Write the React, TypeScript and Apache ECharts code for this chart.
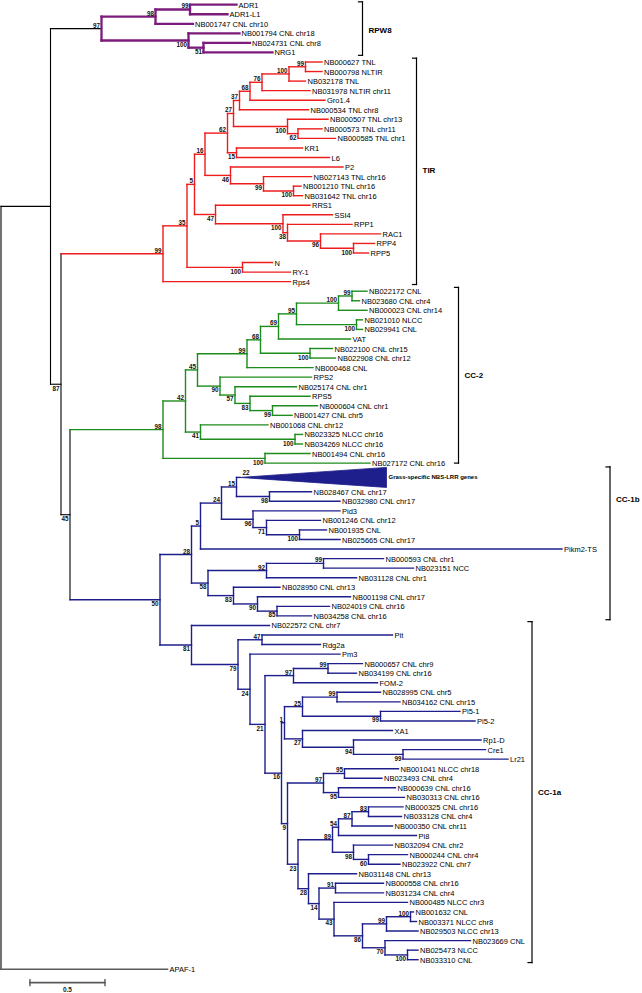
import React, { useEffect, useRef } from "react";
import * as echarts from "echarts";

// ---------- colours ----------
const PURPLE = "#7b1b7b";
const RED = "#ee1c1c";
const GREEN = "#1c8c1c";
const BLUE = "#1e1e8c";
const BLACK = "#000000";
const GRAY = "#5a5a5a";

// ---------- tree data (Newick-like: label:depth from root, internal label = bootstrap) ----------
const rpw8Newick =
  "(((ADR1:1.57,ADR1-L1:1.51)99:1.26,NB001747 CNL chr10:1.28)98:1.03,(NB001794 CNL chr18:1.59,(NB024731 CNL chr8:1.66,NRG1:1.81)51:1.35)100:1.25)97:0.67";

const tirNewick =
  "(((((((((((NB000627 TNL:2.14,NB000798 NLTIR:2.14)99:2.03,NB032178 TNL:2.03)100:1.92,NB031978 NLTIR chr11:2.06)76:1.74,Gro1.4:2.16)68:1.66,NB000534 TNL chr8:2.05)37:1.59,(NB000507 TNL chr13:2.18,(NB000573 TNL chr11:2.14,NB000585 TNL chr1:2.23)62:1.98)100:1.91)27:1.55,(KR1:2.01,L6:2.19)15:1.57)62:1.51,(P2:2.28,(NB027143 TNL chr16:2.07,(NB001210 TNL chr16:2.0,NB031642 TNL chr16:2.01)100:1.95)99:1.75)46:1.53)16:1.36,(RRS1:2.06,(SSI4:2.21,(RPP1:2.34,(RAC1:2.53,(RPP4:2.49,RPP5:2.45)100:2.35)96:2.13)38:1.91)100:1.88)47:1.43)5:1.29,(N:1.81,RY-1:1.93)100:1.61)35:1.24,Rps4:1.93)99:1.08";

const cc2Newick =
  "(((((((((NB022172 CNL:2.44,NB023680 CNL chr4:2.39)99:2.34,NB000023 CNL chr14:2.44)100:2.25,(NB021010 NLCC:2.41,NB029941 CNL:2.41)100:2.37)95:1.97,VAT:2.33)69:1.85,(NB022100 CNL chr15:2.21,NB022908 CNL chr12:2.23)100:2.06)68:1.73,NB000468 CNL:2.08)99:1.64,(RPS2:2.07,(NB025174 CNL chr1:1.97,(RPS5:2.06,(NB000604 CNL chr1:2.11,NB001427 CNL chr5:1.94)99:1.81)83:1.66)57:1.56)90:1.46)45:1.31,(NB001068 CNL chr12:1.78,(NB023325 NLCC chr16:2.01,NB034269 NLCC chr16:2.01)100:1.96)41:1.33)42:1.23,(NB001494 CNL chr16:2.06,NB027172 CNL chr16:2.46)100:1.76)98:1.08";

// "*" marks the collapsed grass-specific clade
const cc1bNewick =
  "((((*:2.57,(NB028467 CNL chr17:2.07,NB032980 CNL chr17:2.26)98:1.79)15:1.57,(Pid3:2.26,(NB001246 CNL chr12:2.13,(NB001935 CNL:2.17,NB025665 CNL chr17:2.26)100:1.99)71:1.77)96:1.68)24:1.47,Pikm2-TS:3.74)5:1.33,(((NB000593 CNL chr1:2.55,NB023151 NCC:2.75)99:2.15,NB031128 CNL chr1:2.37)92:1.77,(NB028950 CNL chr13:1.86,(NB001198 CNL chr17:2.33,(NB024019 CNL chr16:2.19,NB034258 CNL chr16:2.07)85:1.84)90:1.71)83:1.55)58:1.38)28:1.27";

const cc1aNewick =
  "(NB022572 CNL chr7:1.79,((Pit:2.61,Rdg2a:2.13)47:1.74,(Pm3:2.26,(((NB000657 CNL chr9:2.41,NB034199 CNL chr16:2.37)99:2.18,FOM-2:2.51)97:1.95,((((NB028995 CNL chr5:2.53,NB034162 CNL chr15:2.66)99:2.24,(Pi5-1:3.06,Pi5-2:3.16)99:2.53)25:2.01,(XA1:2.61,(Rp1-D:3.2,(Cre1:3.23,Lr21:3.38)99:2.68)94:2.35)27:2.01)1:1.89,(((NB001041 NLCC chr18:2.65,NB023493 CNL chr4:2.54)95:2.29,(NB000639 CNL chr16:2.63,NB030313 CNL chr16:2.69)95:2.25)97:2.15,(((((NB000325 CNL chr16:2.68,NB033128 CNL chr4:2.67)83:2.45,NB000350 CNL chr11:2.61)87:2.34,Pi8:2.77)54:2.25,(NB032094 CNL chr2:2.61,(NB000244 CNL chr4:2.71,NB023922 CNL chr7:2.66)60:2.45)98:2.35)89:2.21,(NB031148 CNL chr13:2.37,((NB000558 CNL chr16:2.55,NB031234 CNL chr4:2.55)91:2.23,(NB000485 NLCC chr3:2.71,(((NB001632 CNL:2.75,NB003371 NLCC chr8:2.77)100:2.73,NB029503 NLCC chr13:2.78)99:2.57,(NB023669 CNL:3.13,(NB025473 NLCC:2.78,NB033310 CNL:2.78)100:2.71)70:2.56)86:2.41)43:2.22)14:2.12)28:2.05)23:1.98)9:1.91)16:1.87)21:1.76)24:1.66)79:1.58)81:1.27";

// backbone: A = (RPW8, B), B = (TIR, D), D = (CC-2, CC-1), CC-1 = (CC-1b, CC-1a)
const backboneNodes = ["A", "B", "D", "CC-1"];
const backboneDepth = [0.33, 0.4, 0.46, 1.06];
const backboneSupport = ["", "87", "45", "50"];

const outgroupName = "APAF-1";
const outgroupDepth = 1.11;

const collapsedName = "Grass-specific NBS-LRR genes";
const collapsedSupport = "22";
const collapsedApexDepth = 1.59;
const collapsedRows = 2;
const collapsedHalfRows = 1.05;

// clade brackets
const cladeNames = ["RPW8", "TIR", "CC-2", "CC-1b", "CC-1a"];
const cladeBracketX = [2.41, 2.77, 3.05, 4.06, 3.54];
const cladeRowFrom = [-0.3, 5.6, 29.6, 48.4, 64.6];
const cladeRowTo = [5.3, 29.3, 48.0, 64.4, 100.3];
const cladeLabelRow = [2.65, 17.4, 38.8, 51.8, 82.5];

// scale bar
const scaleBarLength = 0.5;
const scaleBarStart = 0.193;
const scaleBarRow = 102.4;
const scaleBarLabel = "0.5";

// axes ranges
const X_MAX = 641 / 150;
const Y_MAX = 103;

// ---------- helpers ----------
interface TNode {
  name: string;
  boot: string;
  x: number;
  y: number;
  children: TNode[];
  color: string;
  stem?: string;
  collapsed?: boolean;
}

function parseNewick(s: string, color: string): TNode {
  let i = 0;
  function node(): TNode {
    const n: TNode = { name: "", boot: "", x: 0, y: 0, children: [], color };
    if (s[i] === "(") {
      i++;
      n.children.push(node());
      while (s[i] === ",") {
        i++;
        n.children.push(node());
      }
      if (s[i] !== ")") throw new Error("bad newick at " + i);
      i++;
    }
    let lab = "";
    while (i < s.length && ":,)".indexOf(s[i]) < 0) lab += s[i++];
    if (s[i] === ":") {
      i++;
      let num = "";
      while (i < s.length && ",)".indexOf(s[i]) < 0) num += s[i++];
      n.x = parseFloat(num);
    }
    if (n.children.length) n.boot = lab;
    else {
      n.name = lab;
      if (lab === "*") n.collapsed = true;
    }
    return n;
  }
  return node();
}

function widthOf(c: string) {
  if (c === PURPLE) return 2.3;
  if (c === BLACK) return 1.1;
  if (c === GRAY) return 1.6;
  return 1.4;
}

const FONT = '"Liberation Sans", Arial, Helvetica, sans-serif';

function buildOption() {
  const rpw8 = parseNewick(rpw8Newick, PURPLE);
  rpw8.stem = BLACK;
  const tir = parseNewick(tirNewick, RED);
  const cc2 = parseNewick(cc2Newick, GREEN);
  const cc1b = parseNewick(cc1bNewick, BLUE);
  const cc1a = parseNewick(cc1aNewick, BLUE);

  const mk = (k: number, children: TNode[], color: string): TNode => ({
    name: backboneNodes[k],
    boot: backboneSupport[k],
    x: backboneDepth[k],
    y: 0,
    children,
    color,
  });
  const cc1 = mk(3, [cc1b, cc1a], BLUE);
  const D = mk(2, [cc2, cc1], BLACK);
  const B = mk(1, [tir, D], BLACK);
  const A = mk(0, [rpw8, B], BLACK);
  const apaf: TNode = { name: outgroupName, boot: "", x: outgroupDepth, y: 0, children: [], color: GRAY };
  const root: TNode = { name: "root", boot: "", x: 0, y: 0, children: [A, apaf], color: BLACK };

  let row = 0;
  const layout = (n: TNode) => {
    if (!n.children.length) {
      if (n.collapsed) {
        n.y = row + (collapsedRows - 1) / 2;
        row += collapsedRows;
      } else {
        n.y = row;
        row += 1;
      }
      return;
    }
    n.children.forEach(layout);
    n.y = (n.children[0].y + n.children[n.children.length - 1].y) / 2;
  };
  layout(root);

  type Seg = { x1: number; y1: number; x2: number; y2: number; color: string; w: number };
  type Txt = {
    x: number; y: number; text: string; font: string; align: string; va: string;
    dx: number; dy: number; color: string;
  };
  type Poly = { pts: number[][]; color: string };
  const segs: Seg[] = [];
  const texts: Txt[] = [];
  const polys: Poly[] = [];

  const leafFont = `7.5px ${FONT}`;
  const bootFont = `bold 6.3px ${FONT}`;

  const walk = (n: TNode) => {
    if (!n.children.length) return;
    const f = n.children[0];
    const l = n.children[n.children.length - 1];
    segs.push({ x1: n.x, y1: f.y, x2: n.x, y2: l.y, color: n.color, w: widthOf(n.color) });
    n.children.forEach((c, i) => {
      const endX = c.collapsed ? collapsedApexDepth : c.x;
      const col = c.stem ?? c.color;
      segs.push({ x1: n.x, y1: c.y, x2: endX, y2: c.y, color: col, w: widthOf(col) });
      if (c.collapsed) {
        polys.push({
          pts: [
            [collapsedApexDepth, c.y],
            [c.x, c.y - collapsedHalfRows],
            [c.x, c.y + collapsedHalfRows],
          ],
          color: c.color,
        });
        texts.push({ x: collapsedApexDepth, y: c.y, text: collapsedSupport, font: bootFont, align: "left", va: "bottom", dx: 3, dy: -2, color: "#111" });
        texts.push({ x: c.x, y: c.y, text: collapsedName, font: `bold 6px ${FONT}`, align: "left", va: "middle", dx: 2, dy: 0, color: "#000" });
      } else if (!c.children.length) {
        texts.push({ x: c.x, y: c.y, text: c.name, font: leafFont, align: "left", va: "middle", dx: 2, dy: 0.5, color: "#000" });
      } else if (c.boot) {
        const above = i === 0;
        texts.push({
          x: c.x, y: c.y, text: c.boot, font: bootFont, align: "right",
          va: above ? "bottom" : "top", dx: -1.5, dy: above ? -0.5 : 0.8, color: "#111",
        });
      }
      walk(c);
    });
  };
  walk(root);

  // clade brackets
  const tick = 4 / 150;
  cladeNames.forEach((name, k) => {
    const bx = cladeBracketX[k];
    segs.push({ x1: bx, y1: cladeRowFrom[k], x2: bx, y2: cladeRowTo[k], color: BLACK, w: 1.2 });
    segs.push({ x1: bx - tick, y1: cladeRowFrom[k], x2: bx, y2: cladeRowFrom[k], color: BLACK, w: 1.2 });
    segs.push({ x1: bx - tick, y1: cladeRowTo[k], x2: bx, y2: cladeRowTo[k], color: BLACK, w: 1.2 });
    texts.push({ x: bx, y: cladeLabelRow[k], text: name, font: `bold 8px ${FONT}`, align: "left", va: "middle", dx: 6, dy: 0, color: "#000" });
  });

  // scale bar
  const sbEnd = scaleBarStart + scaleBarLength;
  segs.push({ x1: scaleBarStart, y1: scaleBarRow, x2: sbEnd, y2: scaleBarRow, color: GRAY, w: 1.6 });
  segs.push({ x1: scaleBarStart, y1: scaleBarRow - 0.3, x2: scaleBarStart, y2: scaleBarRow + 0.3, color: GRAY, w: 1.4 });
  segs.push({ x1: sbEnd, y1: scaleBarRow - 0.3, x2: sbEnd, y2: scaleBarRow + 0.3, color: GRAY, w: 1.4 });
  texts.push({ x: (scaleBarStart + sbEnd) / 2, y: scaleBarRow, text: scaleBarLabel, font: `bold 6.5px ${FONT}`, align: "center", va: "top", dx: 0, dy: 3, color: "#222" });

  const option: any = {
    animation: false,
    backgroundColor: "#ffffff",
    grid: { left: 1, width: 641, top: 4.7, height: (Y_MAX * 9.55) },
    xAxis: { type: "value", min: 0, max: X_MAX, show: false },
    yAxis: { type: "value", min: 0, max: Y_MAX, inverse: true, show: false },
    series: [
      {
        type: "custom",
        name: "branches",
        silent: true,
        data: segs.map((s) => [s.x1, s.y1, s.x2, s.y2]),
        encode: { x: [0, 2], y: [1, 3] },
        renderItem: (params: any, api: any) => {
          const s = segs[params.dataIndex];
          const p1 = api.coord([s.x1, s.y1]);
          const p2 = api.coord([s.x2, s.y2]);
          return {
            type: "line",
            shape: { x1: p1[0], y1: p1[1], x2: p2[0], y2: p2[1] },
            style: { stroke: s.color, lineWidth: s.w, lineCap: "square" },
          };
        },
      },
      {
        type: "custom",
        name: "collapsed",
        silent: true,
        data: polys.map((p) => [p.pts[0][0], p.pts[0][1]]),
        renderItem: (params: any, api: any) => {
          const p = polys[params.dataIndex];
          return {
            type: "polygon",
            shape: { points: p.pts.map((q) => api.coord(q)) },
            style: { fill: p.color, stroke: p.color, lineWidth: 0.8 },
          };
        },
      },
      {
        type: "custom",
        name: "labels",
        silent: true,
        data: texts.map((t) => [t.x, t.y]),
        renderItem: (params: any, api: any) => {
          const t = texts[params.dataIndex];
          const p = api.coord([t.x, t.y]);
          return {
            type: "text",
            x: p[0] + t.dx,
            y: p[1] + t.dy,
            style: {
              text: t.text,
              font: t.font,
              fill: t.color,
              align: t.align,
              verticalAlign: t.va,
              textAlign: t.align,
              textVerticalAlign: t.va,
            },
          };
        },
      },
    ],
  };
  return option;
}

export default function App() {
  const ref = useRef<HTMLDivElement>(null);
  useEffect(() => {
    document.body.style.margin = "0";
    const chart = echarts.init(ref.current as HTMLDivElement, null, { renderer: "svg" });
    chart.setOption(buildOption());
    return () => chart.dispose();
  }, []);
  return <div ref={ref} style={{ width: 642, height: 993, background: "#ffffff" }} />;
}
